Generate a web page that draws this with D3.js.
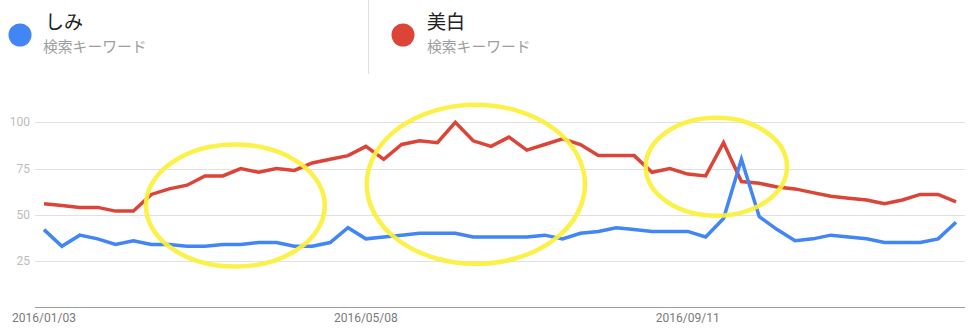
<!DOCTYPE html>
<html>
<head>
<meta charset="utf-8">
<script src="https://cdn.jsdelivr.net/npm/d3@7"></script>
<style>
  html, body { margin: 0; padding: 0; background: #fff; }
  svg { display: block; }
</style>
</head>
<body>
<svg id="chart" width="978" height="330"></svg>
<script>
// ---- data ----
const startDate = "2016-01-03";
const weekCount = 52;
const seriesNames = ["しみ", "美白"];
const seriesSub = ["検索キーワード", "検索キーワード"];
const seriesColors = ["#4285f4", "#db4437"];
const shimiValues = [42,33,39,37,34,36,34,34,33,33,34,34,35,35,33,33,35,43,37,38,39,40,40,40,38,38,
                     38,38,39,37,40,41,43,42,41,41,41,38,48,80,49,42,36,37,39,38,37,35,35,35,37,46];
const bihakuValues = [56,55,54,54,52,52,61,64,66,71,71,75,73,75,74,78,80,82,87,80,88,90,89,100,90,87,
                      92,85,88,91,88,82,82,82,73,75,72,71,89,68,67,65,64,62,60,59,58,56,58,61,61,57];
const yTicks = [25, 50, 75, 100];
const xTickLabels = ["2016/01/03", "2016/05/08", "2016/09/11"];
// annotation ellipses: centre week index, centre value, half-width in weeks, half-height in values
const annoCenterWeek = [10.7, 24.15, 37.6];
const annoCenterValue = [55, 66.5, 76];
const annoHalfWeeks = [5.0, 6.1, 3.95];
const annoHalfValues = [33, 43, 26.5];

// ---- layout ----
const svg = d3.select("#chart");
const parse = d3.timeParse("%Y-%m-%d");
const fmt = d3.timeFormat("%Y/%m/%d");
const t0 = parse(startDate);
const dates = d3.range(weekCount).map(i => d3.timeDay.offset(t0, i * 7));

const x = d3.scaleTime().domain([dates[0], dates[weekCount - 1]]).range([44, 956]);
const y = d3.scaleLinear().domain([0, 100]).range([307.3, 122.3]);
const gridLeft = 35, gridRight = 965;
const weekPx = (x(dates[1]) - x(dates[0]));

// gridlines
svg.append("g").selectAll("line").data(yTicks).join("line")
  .attr("x1", gridLeft).attr("x2", gridRight)
  .attr("y1", d => Math.round(y(d)) + 0.5).attr("y2", d => Math.round(y(d)) + 0.5)
  .attr("stroke", "#e0e0e0").attr("stroke-width", 1);

// baseline
svg.append("line")
  .attr("x1", gridLeft).attr("x2", gridRight)
  .attr("y1", Math.round(y(0)) + 0.5).attr("y2", Math.round(y(0)) + 0.5)
  .attr("stroke", "#9e9e9e").attr("stroke-width", 1);

// y labels
svg.append("g").selectAll("text").data(yTicks).join("text")
  .attr("x", 30).attr("y", d => y(d))
  .attr("text-anchor", "end").attr("dominant-baseline", "central")
  .attr("font-family", "Roboto, Arial, sans-serif").attr("font-size", 12)
  .attr("fill", "#bdbdbd")
  .text(d => d);

// x labels
const labelDates = xTickLabels.map(s => d3.timeParse("%Y/%m/%d")(s));
svg.append("g").selectAll("text").data(labelDates).join("text")
  .attr("x", d => x(d)).attr("y", 321.5)
  .attr("text-anchor", "middle")
  .attr("font-family", "Roboto, Arial, sans-serif").attr("font-size", 12)
  .attr("fill", "#7a7a7a")
  .text(d => fmt(d));

// lines
const seriesData = [shimiValues, bihakuValues];
const line = d3.line().x((d, i) => x(dates[i])).y(d => y(d));
[1, 0].forEach(k => {
  svg.append("path")
    .datum(seriesData[k])
    .attr("fill", "none")
    .attr("stroke", seriesColors[k])
    .attr("stroke-width", 3.5)
    .attr("stroke-linejoin", "miter")
    .attr("d", line);
});

// annotation ellipses
svg.append("g").selectAll("ellipse").data(annoCenterWeek).join("ellipse")
  .attr("cx", (d, i) => x(dates[0]) + d * weekPx)
  .attr("cy", (d, i) => y(annoCenterValue[i]))
  .attr("rx", (d, i) => annoHalfWeeks[i] * weekPx)
  .attr("ry", (d, i) => y(0) - y(annoHalfValues[i]))
  .attr("fill", "none")
  .attr("stroke", "#fbf03a")
  .attr("stroke-opacity", 0.92)
  .attr("stroke-width", 4.5);

// legend
const legendX = [20, 403];
const lg = svg.append("g").selectAll("g").data(seriesNames).join("g")
  .attr("transform", (d, i) => `translate(${legendX[i]},0)`);
lg.append("circle").attr("cx", 0).attr("cy", 35).attr("r", 11.5)
  .attr("fill", (d, i) => seriesColors[i]);
lg.append("text").attr("x", (d, i) => i === 0 ? 25 : 24).attr("y", 29)
  .attr("font-family", "'Noto Sans CJK JP', sans-serif").attr("font-size", 19)
  .attr("fill", "#212121")
  .text(d => d);
lg.append("text").attr("x", (d, i) => i === 0 ? 23 : 24).attr("y", 51.5)
  .attr("font-family", "'Noto Sans CJK JP', sans-serif").attr("font-size", 14.8)
  .attr("fill", "#9e9e9e")
  .text((d, i) => seriesSub[i]);

// divider
svg.append("line").attr("x1", 368.5).attr("x2", 368.5).attr("y1", 0).attr("y2", 74)
  .attr("stroke", "#e0e0e0").attr("stroke-width", 1);
</script>
</body>
</html>
